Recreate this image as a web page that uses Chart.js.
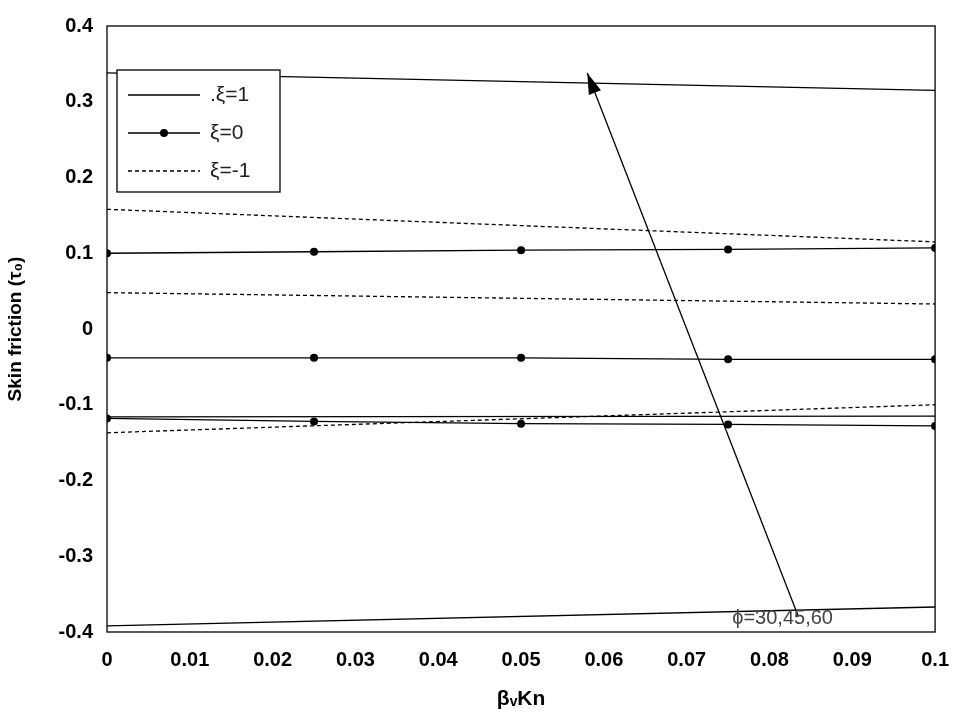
<!DOCTYPE html>
<html><head><meta charset="utf-8">
<script src="https://cdn.jsdelivr.net/npm/chart.js@4.4.0/dist/chart.umd.min.js"></script>
<style>html,body{margin:0;background:#fff}#wrap{width:965px;height:716px}</style>
</head><body><div id="wrap"><canvas id="c" width="965" height="716"></canvas></div>
<script>
const xs = [0, 0.025, 0.05, 0.075, 0.1];
const xEnds = [0, 0.1];
const xTicks = [0,0.01,0.02,0.03,0.04,0.05,0.06,0.07,0.08,0.09,0.1];
const yTicks = [-0.4,-0.3,-0.2,-0.1,0,0.1,0.2,0.3,0.4];
// xi = 1 (solid)
const solidA = [0.338, 0.315];
const solidB = [-0.116, -0.115];
const solidC = [-0.392, -0.367];
// xi = 0 (solid with dots)
const dotA = [0.100, 0.102, 0.104, 0.105, 0.107];
const dotB = [-0.038, -0.038, -0.038, -0.040, -0.040];
const dotC = [-0.118, -0.122, -0.125, -0.126, -0.128];
// xi = -1 (dashed)
const dashA = [0.158, 0.115];
const dashB = [0.048, 0.033];
const dashC = [-0.137, -0.100];
const arrowFrom = [0.0835, -0.38], arrowTo = [0.058, 0.338];

const pts = (x, y) => x.map((v, i) => ({x: v, y: y[i]}));
const line = (x, y, kind) => ({
  data: pts(x, y), borderColor: '#000', borderWidth: 1.3,
  borderDash: kind === 'dash' ? [4, 3] : [],
  pointRadius: kind === 'dot' ? 4 : 0, pointBackgroundColor: '#000', pointBorderWidth: 0,
  tension: 0, fill: false
});

const extras = {
  id: 'extras',
  afterDraw(ch) {
    const g = ch.ctx, sx = ch.scales.x, sy = ch.scales.y, a = ch.chartArea;
    g.save();
    g.strokeStyle = '#000'; g.lineWidth = 1.3;
    g.strokeRect(a.left, a.top, a.right - a.left, a.bottom - a.top);
    // arrow
    const x1 = sx.getPixelForValue(arrowFrom[0]), y1 = sy.getPixelForValue(arrowFrom[1]);
    const x2 = sx.getPixelForValue(arrowTo[0]), y2 = sy.getPixelForValue(arrowTo[1]);
    g.beginPath(); g.moveTo(x1, y1); g.lineTo(x2, y2); g.stroke();
    const ang = Math.atan2(y2 - y1, x2 - x1), L = 22, w = 0.3;
    g.fillStyle = '#000'; g.beginPath(); g.moveTo(x2, y2);
    g.lineTo(x2 - L * Math.cos(ang - w), y2 - L * Math.sin(ang - w));
    g.lineTo(x2 - L * Math.cos(ang + w), y2 - L * Math.sin(ang + w));
    g.closePath(); g.fill();
    g.font = '20px Arial, "Liberation Sans"'; g.fillStyle = '#444';
    g.textBaseline = 'alphabetic';
    g.fillText('ϕ=30,45,60', sx.getPixelForValue(0.0755), sy.getPixelForValue(-0.39));
    // legend
    g.fillStyle = '#fff'; g.fillRect(117, 70, 163, 122);
    g.strokeRect(117, 70, 163, 122);
    const rows = [['.ξ=1', []], ['ξ=0', [], true], ['ξ=-1', [4, 3]]];
    rows.forEach((r, i) => {
      const y = 95 + i * 38;
      g.setLineDash(r[1]); g.beginPath(); g.moveTo(128, y); g.lineTo(200, y); g.stroke();
      g.setLineDash([]);
      if (r[2]) { g.fillStyle = '#000'; g.beginPath(); g.arc(164, y, 4, 0, 7); g.fill(); }
      g.fillStyle = '#222'; g.font = '21px Arial, "Liberation Sans"'; g.textBaseline = 'middle';
      g.fillText(r[0], 210, y);
    });
    g.restore();
  }
};

new Chart(document.getElementById('c'), {
  type: 'line',
  data: { datasets: [
    line(xEnds, solidA), line(xEnds, solidB), line(xEnds, solidC),
    line(xs, dotA, 'dot'), line(xs, dotB, 'dot'), line(xs, dotC, 'dot'),
    line(xEnds, dashA, 'dash'), line(xEnds, dashB, 'dash'), line(xEnds, dashC, 'dash')
  ]},
  options: {
    responsive: false, animation: false,
    layout: { padding: { top: -2, right: 8, left: 0, bottom: 0 } },
    plugins: { legend: { display: false }, tooltip: { enabled: false } },
    scales: {
      x: { type: 'linear', min: 0, max: 0.1,
        afterBuildTicks: s => { s.ticks = xTicks.map(v => ({value: v})); },
        afterFit: s => { s.height = 84; },
        grid: { display: false, drawTicks: false },
        border: { display: false },
        ticks: { color: '#000', font: { size: 20, weight: 'bold', family: 'Arial, "Liberation Sans"' }, padding: 16, maxRotation: 0, callback: v => String(+v.toFixed(2)) },
        title: { display: true, text: 'βᵥKn', color: '#000', font: { size: 21, weight: 'bold', family: 'Arial, "Liberation Sans"' }, padding: { top: 2 } }
      },
      y: { min: -0.4, max: 0.4,
        afterBuildTicks: s => { s.ticks = yTicks.map(v => ({value: v})); },
        afterFit: s => { s.width = 107; },
        grid: { display: false, drawTicks: false },
        border: { display: false },
        ticks: { color: '#000', font: { size: 20, weight: 'bold', family: 'Arial, "Liberation Sans"' }, padding: 14, callback: v => String(+v.toFixed(1)) },
        title: { display: true, text: 'Skin friction (τ₀)', color: '#000', font: { size: 19, weight: 'bold', family: 'Arial, "Liberation Sans"' }, padding: { bottom: 2 } }
      }
    }
  },
  plugins: [extras]
});
</script></body></html>
